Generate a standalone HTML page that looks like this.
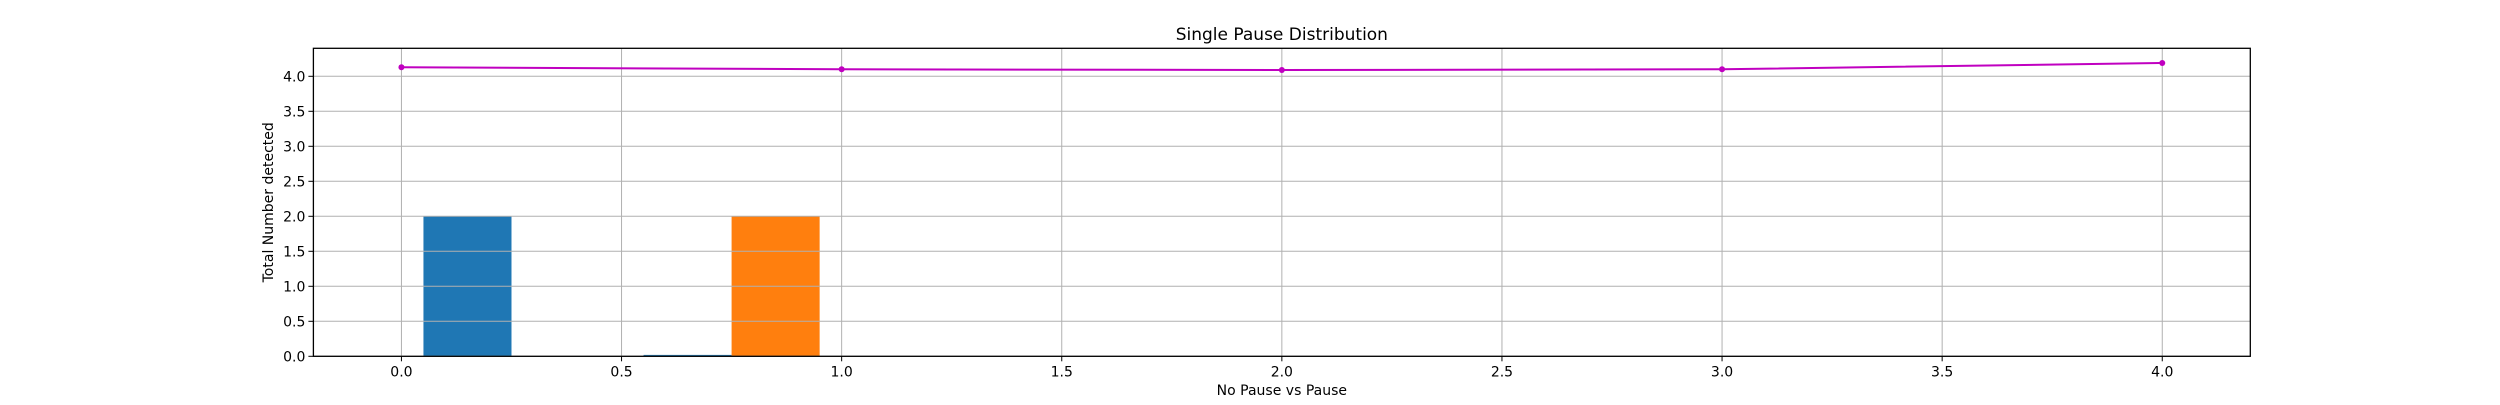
<!DOCTYPE html>
<html><head><meta charset="utf-8"><style>body{margin:0;background:#fff}svg text{font-family:"DejaVu Sans","Liberation Sans",sans-serif}</style></head>
<body>
<svg id="chart" width="2500" height="400" xmlns="http://www.w3.org/2000/svg"></svg>
<script>
const barStarts = [0.05, 0.55, 0.75];
const barValues = [2, 0.02, 2];
const barColors = ['#1f77b4', '#1f77b4', '#ff7f0e'];
const lineX = [0, 1, 2, 3, 4];
const lineY = [4.13, 4.10, 4.09, 4.10, 4.19];
const xTicks = ['0.0','0.5','1.0','1.5','2.0','2.5','3.0','3.5','4.0'];
const yTicks = ['0.0','0.5','1.0','1.5','2.0','2.5','3.0','3.5','4.0'];
const barWidth = 0.2;

const L=313.4,R=2250.3,T=48.3,B=356.3,xmin=-0.2,xmax=4.2,ymin=0,ymax=4.4;
const sx=v=>L+(v-xmin)/(xmax-xmin)*(R-L);
const sy=v=>B-(v-ymin)/(ymax-ymin)*(B-T);
const svg=document.getElementById('chart');
const NS='http://www.w3.org/2000/svg';
function mk(tag,attrs,parent){const e=document.createElementNS(NS,tag);for(const k in attrs)e.setAttribute(k,attrs[k]);(parent||svg).appendChild(e);return e;}

// bars (below grid, matplotlib draws grid over patches here)
barValues.forEach((v,i)=>{
  const r=mk('rect',{x:sx(barStarts[i]),y:sy(v),width:sx(barStarts[i]+barWidth)-sx(barStarts[i]),height:sy(0)-sy(v),fill:barColors[i]});
  
  
});
// grid
xTicks.forEach(t=>{const x=sx(parseFloat(t));
  const g=mk('line',{x1:x,x2:x,y1:T,y2:B,stroke:'#b0b0b0','stroke-width':1});
  
  
  mk('line',{x1:x,x2:x,y1:B,y2:B+5,stroke:'#000'});
  const tx=mk('text',{x:x,y:B+20,'text-anchor':'middle','font-size':14});
  tx.textContent=t;
  
  
});
yTicks.forEach(t=>{const y=sy(parseFloat(t));
  const g=mk('line',{x1:L,x2:R,y1:y,y2:y,stroke:'#b0b0b0','stroke-width':1});
  
  
  mk('line',{x1:L-5,x2:L,y1:y,y2:y,stroke:'#000'});
  const tx=mk('text',{x:L-8,y:y+5,'text-anchor':'end','font-size':14});
  tx.textContent=t;
  
  
});
// line
const pl=mk('polyline',{points:lineX.map((x,i)=>sx(x)+','+sy(lineY[i])).join(' '),fill:'none',stroke:'#c000c0','stroke-width':2});


lineX.forEach((x,i)=>{
  const c=mk('circle',{cx:sx(x),cy:sy(lineY[i]),r:3,fill:'#c000c0'});
  
  
});
// frame
const f=mk('rect',{x:L,y:T,width:R-L,height:B-T,fill:'none',stroke:'#000','stroke-width':1.3});


const ti=mk('text',{x:(L+R)/2,y:40,'text-anchor':'middle','font-size':17});
ti.textContent='Single Pause Distribution';


const xl=mk('text',{x:(L+R)/2,y:395,'text-anchor':'middle','font-size':14});
xl.textContent='No Pause vs Pause';


const yl=mk('text',{x:0,y:0,'text-anchor':'middle','font-size':14,transform:'translate(273,'+((T+B)/2)+') rotate(-90)'});
yl.textContent='Total Number detected';


</script>
</body></html>
